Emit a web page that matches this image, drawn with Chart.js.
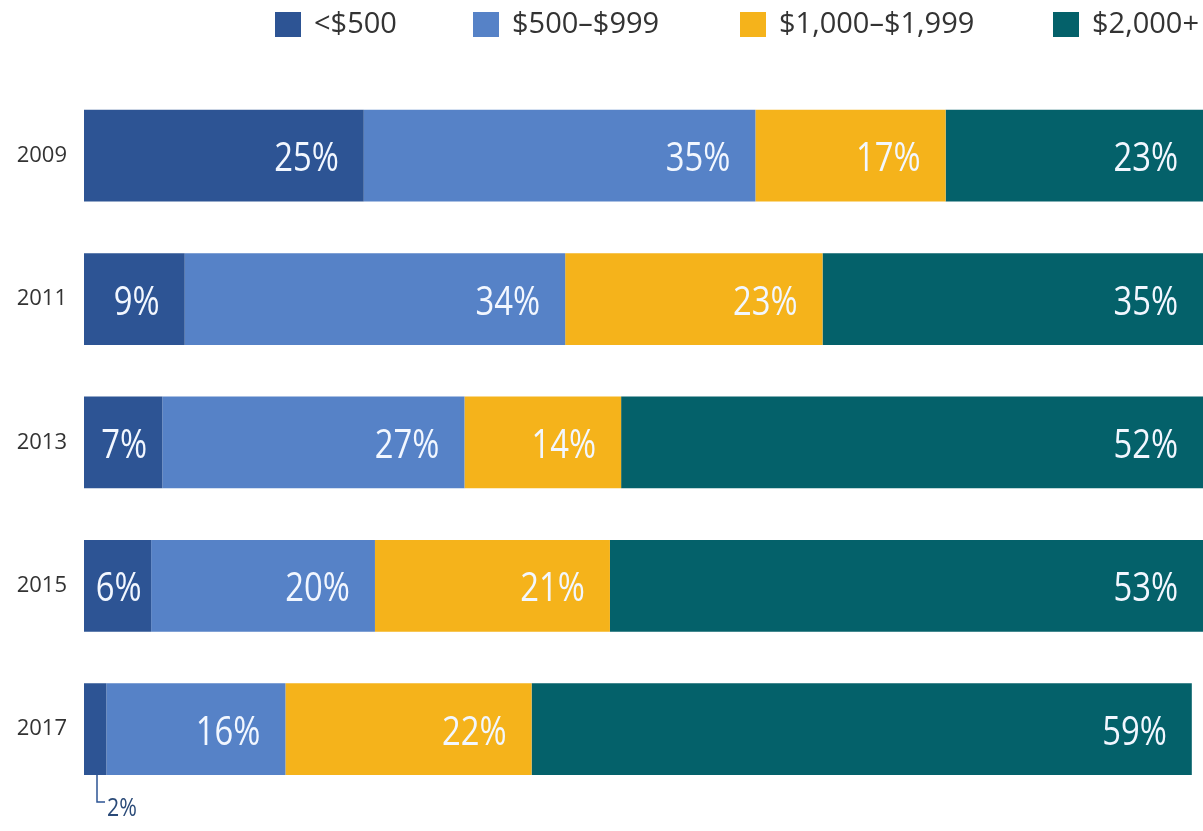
<!DOCTYPE html>
<html>
<head>
<meta charset="utf-8">
<script src="https://cdn.jsdelivr.net/npm/chart.js@4.4.0/dist/chart.umd.min.js"></script>
<style>
  html, body { margin: 0; padding: 0; background: #fff; overflow: hidden; }
  #wrap { width: 1203px; height: 831px; position: relative; }
</style>
</head>
<body>
<div id="wrap"><canvas id="myChart" width="1203" height="831"></canvas></div>
<script>
// data
var years = ['2009', '2011', '2013', '2015', '2017'];
var seriesNames = ['<$500', '$500\u2013$999', '$1,000\u2013$1,999', '$2,000+'];
var under500 = [25, 9, 7, 6, 2];
var from500 = [35, 34, 27, 20, 16];
var from1000 = [17, 23, 14, 21, 22];
var over2000 = [23, 35, 52, 53, 59];

var cores = ['#2d5494', '#5682c7', '#f5b31b', '#04616a'];

// legend drawn on the canvas, left edge of each box
var legendX = [275, 473, 740, 1053];

// condensed text: the original uses a narrow face, so squeeze Open Sans
function textoEstreito(ctx, txt, x, y, size, squeeze) {
    ctx.save();
    ctx.font = size + 'px "Open Sans", sans-serif';
    ctx.translate(x, y);
    ctx.scale(squeeze, 1);
    ctx.fillText(txt, 0, 0);
    ctx.restore();
}

function larguraEstreita(ctx, txt, size, squeeze) {
    ctx.save();
    ctx.font = size + 'px "Open Sans", sans-serif';
    var w = ctx.measureText(txt).width * squeeze;
    ctx.restore();
    return w;
}

var legendPlugin = {
    id: 'legendaTopo',
    afterDraw: function (chart) {
        var ctx = chart.ctx;
        ctx.save();
        ctx.font = '29px "Open Sans", sans-serif';
        ctx.textBaseline = 'middle';
        ctx.textAlign = 'left';
        chart.data.datasets.forEach(function (ds, i) {
            ctx.fillStyle = ds.backgroundColor;
            ctx.fillRect(legendX[i], 12, 26, 25);
            ctx.fillStyle = '#333333';
            ctx.fillText(ds.label, legendX[i] + 39, 25);
        });
        ctx.restore();
    }
};

var rotulosPlugin = {
    id: 'rotulos',
    afterDatasetsDraw: function (chart) {
        var ctx = chart.ctx;
        var pad = 25;
        ctx.save();
        ctx.textBaseline = 'middle';
        chart.data.datasets.forEach(function (ds, i) {
            var meta = chart.getDatasetMeta(i);
            meta.data.forEach(function (bar, j) {
                var v = ds.data[j];
                var xFim = Math.min(bar.x, chart.chartArea.right);
                var txt = v + '%';
                if (v >= 5) {
                    ctx.fillStyle = '#f2f7ff';
                    var w = larguraEstreita(ctx, txt, 41, 0.8);
                    var largura = xFim - bar.base;
                    if (largura < w + 2 * pad + 4) {
                        // narrow segment: centre the label
                        ctx.textAlign = 'center';
                        textoEstreito(ctx, txt, (bar.base + xFim) / 2 + 1, bar.y + 4, 41, 0.8);
                    } else {
                        ctx.textAlign = 'right';
                        textoEstreito(ctx, txt, xFim - pad, bar.y + 4, 41, 0.8);
                    }
                } else {
                    // small value: callout below the bar
                    var lx = bar.base + 13;
                    var bottom = bar.y + bar.height / 2;
                    ctx.strokeStyle = '#2d5494';
                    ctx.lineWidth = 1.5;
                    ctx.beginPath();
                    ctx.moveTo(lx, bottom);
                    ctx.lineTo(lx, bottom + 27);
                    ctx.lineTo(lx + 8, bottom + 27);
                    ctx.stroke();
                    ctx.fillStyle = '#2a4a78';
                    ctx.textAlign = 'left';
                    textoEstreito(ctx, txt, lx + 10, bottom + 34, 26, 0.82);
                }
            });
        });
        ctx.restore();
    }
};

document.addEventListener("DOMContentLoaded", function () {
    var ctx = document.getElementById('myChart').getContext('2d');
    var myChart = new Chart(ctx, {
        type: 'bar',
        data: {
            labels: years,
            datasets: [
                { label: seriesNames[0], data: under500, backgroundColor: cores[0] },
                { label: seriesNames[1], data: from500, backgroundColor: cores[1] },
                { label: seriesNames[2], data: from1000, backgroundColor: cores[2] },
                { label: seriesNames[3], data: over2000, backgroundColor: cores[3] }
            ]
        },
        options: {
            indexAxis: 'y',
            responsive: false,
            animation: false,
            layout: { padding: { top: 84, bottom: 18, left: 0, right: 0 } },
            datasets: {
                bar: { categoryPercentage: 0.64, barPercentage: 1, borderWidth: 0 }
            },
            plugins: {
                legend: { display: false },
                tooltip: { enabled: false }
            },
            scales: {
                x: {
                    stacked: true,
                    min: 0,
                    max: 100,
                    display: false
                },
                y: {
                    stacked: true,
                    grid: { display: false, drawTicks: false },
                    border: { display: false },
                    afterFit: function (scale) { scale.width = 84; },
                    ticks: {
                        padding: 17,
                        color: '#333333',
                        font: { family: '"Open Sans", sans-serif', size: 22 }
                    }
                }
            }
        },
        plugins: [legendPlugin, rotulosPlugin]
    });
});
</script>
</body>
</html>
